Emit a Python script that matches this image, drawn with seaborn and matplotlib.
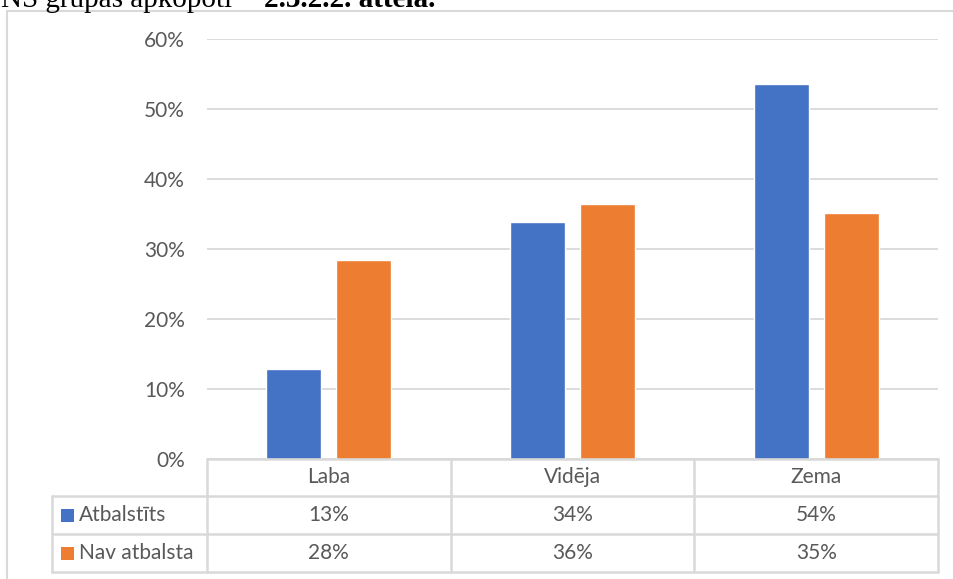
import numpy as np
import pandas as pd
import matplotlib.pyplot as plt
import seaborn as sns
from matplotlib.lines import Line2D
from matplotlib.patches import Rectangle
import matplotlib.transforms as mtransforms

# data
categories = ["Laba", "Vidēja", "Zema"]
series = ["Atbalstīts", "Nav atbalsta"]
atbalstits = [0.128, 0.338, 0.536]
nav_atbalsta = [0.284, 0.364, 0.351]
y_ticks = [0.0, 0.1, 0.2, 0.3, 0.4, 0.5, 0.6]
colors = {"Atbalstīts": "#4472C4", "Nav atbalsta": "#ED7D31"}

df = pd.DataFrame(
    {
        "Vērtējums": categories * 2,
        "Grupa": [series[0]] * 3 + [series[1]] * 3,
        "Vērtība": atbalstits + nav_atbalsta,
    }
)

sns.set_theme(style="white")
plt.rcParams["font.family"] = ["Lato", "DejaVu Sans"]

W, H = 954, 579
fig = plt.figure(figsize=(W / 100, H / 100), dpi=100)


def fx(x):
    return x / W


def fy(y):
    return 1 - y / H


text_col = "#595959"
grid_col = "#D9D9D9"
fs = 15

ax = fig.add_axes([fx(207), fy(459), fx(938) - fx(207), fy(39) - fy(459)])
sns.barplot(
    data=df,
    x="Vērtējums",
    y="Vērtība",
    hue="Grupa",
    palette=colors,
    width=0.574,
    gap=0.214,
    legend=False,
    saturation=1,
    ax=ax,
)
ax.set_xlim(-0.5, 2.5)
ax.set_ylim(0, 0.6)
ax.set_yticks(y_ticks)
ax.set_yticklabels([f"{int(round(t * 100))}%" for t in y_ticks], color=text_col, fontsize=fs)
ax.yaxis.grid(True, color=grid_col, linewidth=1.3)
ax.set_axisbelow(True)
ax.tick_params(axis="y", length=0, pad=16)
ax.set_xticks([])
ax.set_xlabel("")
ax.set_ylabel("")
for s in ax.spines.values():
    s.set_visible(False)

# data table under the axes
blend = mtransforms.blended_transform_factory(ax.transData, fig.transFigure)
row_y = [459, 496, 534, 572]
lw = 1.8


def hline(x0, x1, y, tr=fig.transFigure):
    fig.add_artist(Line2D([x0, x1], [fy(y), fy(y)], transform=tr, color=grid_col, lw=lw))


def vline(x, y0, y1, tr=fig.transFigure):
    fig.add_artist(Line2D([x, x], [fy(y0), fy(y1)], transform=tr, color=grid_col, lw=lw))


hline(-0.5, 2.5, row_y[0], blend)
for y in row_y[1:]:
    hline(fx(52), fx(207), y)
    hline(-0.5, 2.5, y, blend)
vline(fx(52), row_y[1], row_y[3])
for b in [-0.5, 0.5, 1.5, 2.5]:
    vline(b, row_y[0], row_y[3], blend)

for i, cat in enumerate(categories):
    fig.text(i, fy(477), cat, transform=blend, ha="center", va="center", color=text_col, fontsize=fs)
    fig.text(i, fy(515), f"{round(atbalstits[i] * 100)}%", transform=blend,
             ha="center", va="center", color=text_col, fontsize=fs)
    fig.text(i, fy(553), f"{round(nav_atbalsta[i] * 100)}%", transform=blend,
             ha="center", va="center", color=text_col, fontsize=fs)

for name, yc in zip(series, [515, 553]):
    fig.add_artist(Rectangle((fx(61), fy(yc + 7)), fx(13), 13 / H,
                             transform=fig.transFigure, color=colors[name], lw=0))
    fig.text(fx(79), fy(yc), name, ha="left", va="center", color=text_col, fontsize=fs)

# chart frame
fig.add_artist(Line2D([fx(7), fx(7)], [fy(11), 0], color=grid_col, lw=1.5))
fig.add_artist(Line2D([fx(7), 1], [fy(11), fy(11)], color=grid_col, lw=1.5))

# caption from the page above, cut off by the crop as in the source
fig.text(fx(1), fy(7), "NS grupas apkopoti", ha="left", va="baseline",
         family="Liberation Serif", fontsize=21, color="black")
fig.text(fx(264), fy(7), "2.3.2.2. attēlā.", ha="left", va="baseline",
         family="Liberation Serif", fontsize=21, fontweight="bold", color="black")

fig.savefig("out.png", dpi=100, facecolor="white")
